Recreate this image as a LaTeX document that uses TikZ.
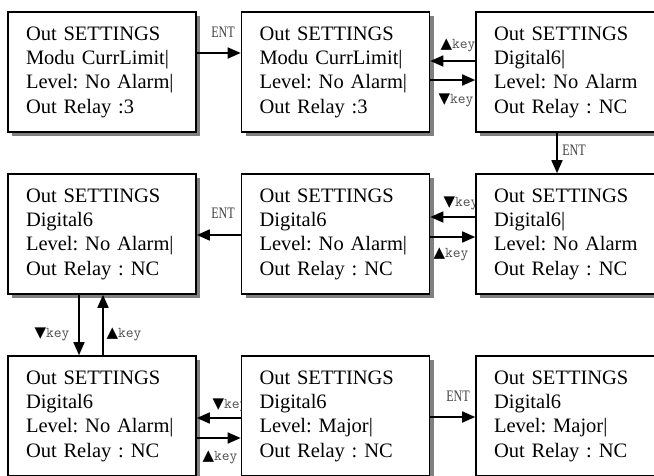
\documentclass[tikz,border=0pt]{standalone}
\usepackage{fontspec}
\usepackage{graphicx}
\setmainfont{Liberation Serif}
\newfontfamily\symf{DejaVu Sans}
\usetikzlibrary{arrows.meta,shadows}
\frenchspacing
\tikzset{
  screen/.style={draw, line width=1.6pt, fill=white, minimum width=188pt, minimum height=120pt,
    text width=152pt, inner xsep=18pt, inner ysep=0pt, align=left,
    font=\frenchspacing\fontsize{20.5}{24.3}\selectfont,
    drop shadow={shadow xshift=4pt, shadow yshift=-4pt, fill=black!50, opacity=1}},
  arr/.style={line width=1.6pt, -{Triangle[length=13pt,width=11pt]}},
  entlbl/.style={inner sep=0pt, text=black!75, font=\fontsize{16}{16}\selectfont},
  keylbl/.style={inner sep=0pt, text=black!70, font=\fontsize{15}{15}\selectfont\ttfamily},
}
\newcommand{\entx}{\scalebox{0.75}[1]{ENT}}
\newcommand{\upk}{{\color{black}\symf\fontsize{15}{15}\selectfont ▲}key}
\newcommand{\dnk}{{\color{black}\symf\fontsize{15}{15}\selectfont ▼}key}
\begin{document}
\begin{tikzpicture}[x=1pt,y=-1pt]
\useasboundingbox (0,0) rectangle (654,475);
% labels (drawn first so boxes may overlap them)
\node[entlbl] (l1) at (223,32) {\entx};
\node[keylbl] (l2) at (458,45) {\upk};
\node[keylbl] (l3) at (456,100) {\dnk};
\node[entlbl] (l4) at (574,150) {\entx};
\node[keylbl] (l5) at (461,203) {\dnk};
\node[keylbl] (l6) at (451,254) {\upk};
\node[entlbl] (l7) at (223,213) {\entx};
\node[keylbl] (l8) at (52,334) {\dnk};
\node[keylbl] (l9) at (124,334) {\upk};
\node[keylbl] (l10) at (230,405) {\dnk};
\node[keylbl] (l11) at (220,457) {\upk};
\node[entlbl] (l12) at (458,396) {\entx};
% screens
\node[screen] (b1) at (102,72) {Out SETTINGS\\Modu CurrLimit|\\Level: No Alarm|\\Out Relay :3};
\node[screen] (b2) at (335.5,72) {Out SETTINGS\\Modu CurrLimit|\\Level: No Alarm|\\Out Relay :3};
\node[screen] (b3) at (570,72) {Out SETTINGS\\Digital6|\\Level: No Alarm\\Out Relay : NC};
\node[screen] (b4) at (102,234) {Out SETTINGS\\Digital6\\Level: No Alarm|\\Out Relay : NC};
\node[screen] (b5) at (335.5,234) {Out SETTINGS\\Digital6\\Level: No Alarm|\\Out Relay : NC};
\node[screen] (b6) at (570,234) {Out SETTINGS\\Digital6|\\Level: No Alarm\\Out Relay : NC};
\node[screen] (b7) at (102,416) {Out SETTINGS\\Digital6\\Level: No Alarm|\\Out Relay : NC};
\node[screen] (b8) at (335.5,416) {Out SETTINGS\\Digital6\\Level: Major|\\Out Relay : NC};
\node[screen] (b9) at (570,416) {Out SETTINGS\\Digital6\\Level: Major|\\Out Relay : NC};
% connectors
\draw[arr] (b1.east |- 0,53) -- (b2.west |- 0,53);
\draw[arr] (b3.west |- 0,61) -- (b2.east |- 0,61);
\draw[arr] (b2.east |- 0,80) -- (b3.west |- 0,80);
\draw[arr] (b3.south -| 557,0) -- (b6.north -| 557,0);
\draw[arr] (b6.west |- 0,217) -- (b5.east |- 0,217);
\draw[arr] (b5.east |- 0,237) -- (b6.west |- 0,237);
\draw[arr] (b5.west |- 0,235) -- (b4.east |- 0,235);
\draw[arr] (b4.south -| 79,0) -- (b7.north -| 79,0);
\draw[arr] (b7.north -| 103,0) -- (b4.south -| 103,0);
\draw[arr] (b8.west |- 0,418) -- (b7.east |- 0,418);
\draw[arr] (b7.east |- 0,438) -- (b8.west |- 0,438);
\draw[arr] (b8.east |- 0,417) -- (b9.west |- 0,417);
\end{tikzpicture}
\end{document}
